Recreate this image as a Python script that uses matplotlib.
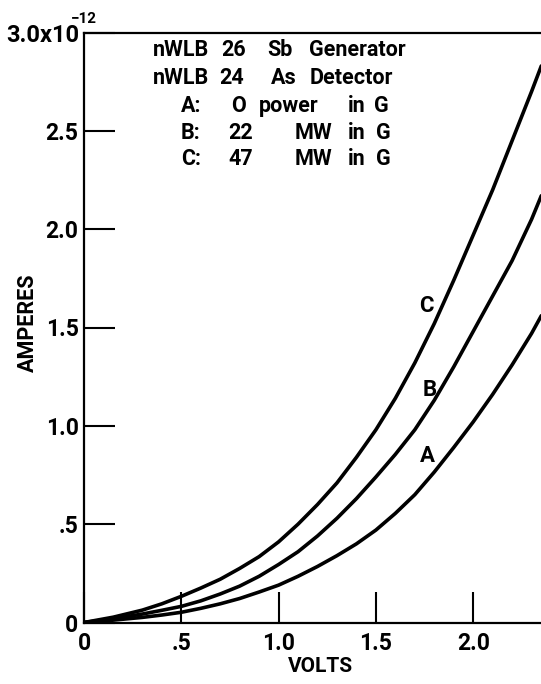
import numpy as np
from matplotlib import pyplot as plt

plt.rcParams['font.family'] = ['Roboto', 'DejaVu Sans']
plt.rcParams['font.weight'] = 'bold'

volts = [0, 0.15, 0.3, 0.4, 0.5, 0.6, 0.7, 0.8, 0.9, 1.0, 1.1, 1.2, 1.3, 1.4, 1.5, 1.6,
         1.7, 1.8, 1.9, 2.0, 2.1, 2.2, 2.3, 2.35]
amps_a = [0, 0.012, 0.026, 0.038, 0.052, 0.072, 0.095, 0.122, 0.155, 0.19, 0.235, 0.285,
          0.34, 0.40, 0.47, 0.555, 0.65, 0.765, 0.89, 1.02, 1.16, 1.31, 1.47, 1.56]
amps_b = [0, 0.019, 0.043, 0.062, 0.082, 0.11, 0.145, 0.185, 0.235, 0.295, 0.36, 0.44,
          0.53, 0.63, 0.74, 0.855, 0.98, 1.13, 1.30, 1.48, 1.66, 1.84, 2.05, 2.17]
amps_c = [0, 0.027, 0.063, 0.095, 0.133, 0.175, 0.22, 0.275, 0.335, 0.41, 0.50, 0.60,
          0.71, 0.84, 0.98, 1.14, 1.32, 1.52, 1.74, 1.97, 2.20, 2.45, 2.70, 2.83]

curve_names = ['A', 'B', 'C']
label_pos = [(1.765, 0.845), (1.775, 1.18), (1.76, 1.61)]

x_ticks = [0, 0.5, 1.0, 1.5, 2.0]
x_labels = ['0', '.5', '1.0', '1.5', '2.0']
y_ticks = [0, 0.5, 1.0, 1.5, 2.0, 2.5, 3.0]
y_labels = ['0', '.5', '1.0', '1.5', '2.0', '2.5', '']

# note block: (text, left x px, centre y px)
note = [
    ('nWLB', 153, 50), ('26', 221, 50), ('Sb', 267, 50), ('Generator', 309, 50),
    ('nWLB', 153, 78), ('24', 219, 78), ('As', 271, 78), ('Detector', 310, 78),
    ('A:', 181, 106), ('O', 231, 106), ('power', 259, 106), ('in', 348, 106), ('G', 374, 106),
    ('B:', 181, 133), ('22', 228, 133), ('MW', 295, 133), ('in', 348, 133), ('G', 376, 133),
    ('C:', 181, 159), ('47', 228, 159), ('MW', 295, 159), ('in', 348, 159), ('G', 376, 159),
]

W, H = 541, 684
fig = plt.figure(figsize=(W / 100, H / 100), dpi=100)
ax = fig.add_axes([84 / W, 1 - 622.5 / H, 1 - 84 / W, (622.5 - 32.5) / H])

for amps in (amps_a, amps_b, amps_c):
    ax.plot(volts, amps, color='black', lw=2.6, solid_capstyle='round', solid_joinstyle='round')

for name, (vx, vy) in zip(curve_names, label_pos):
    ax.text(vx, vy, name, fontsize=16, fontweight='bold', ha='center', va='center')

ax.set_xlim(0, (W - 84) / 194.6)
ax.set_ylim(0, 3.0)
ax.set_xticks(x_ticks)
ax.set_xticklabels(x_labels)
ax.set_yticks(y_ticks)
ax.set_yticklabels(y_labels)
ax.tick_params(direction='in', length=22, width=1.5, labelsize=16.5)
ax.tick_params(axis='x', pad=7)
ax.tick_params(axis='y', pad=4)
for lab in ax.get_xticklabels() + ax.get_yticklabels():
    lab.set_fontweight('bold')

ax.spines['right'].set_visible(False)
for s in ('left', 'top', 'bottom'):
    ax.spines[s].set_linewidth(1.6)

fig.text(320 / W, 1 - 666 / H, 'VOLTS', fontsize=15, fontweight='bold', ha='center', va='center')
fig.text(28 / W, 1 - 323 / H, 'AMPERES', fontsize=15.5, fontweight='bold', ha='center',
         va='center', rotation=90)

fig.text(79 / W, 1 - 35 / H, '3.0x10', fontsize=17, fontweight='bold', ha='right', va='center')
fig.text(71 / W, 1 - 19 / H, '\u2212' + '12', fontsize=11, fontweight='bold', ha='left',
         va='center')

for txt, px, py in note:
    fig.text(px / W, 1 - py / H, txt, fontsize=15.5, fontweight='bold', ha='left', va='center')

fig.savefig('out.png', dpi=100)
